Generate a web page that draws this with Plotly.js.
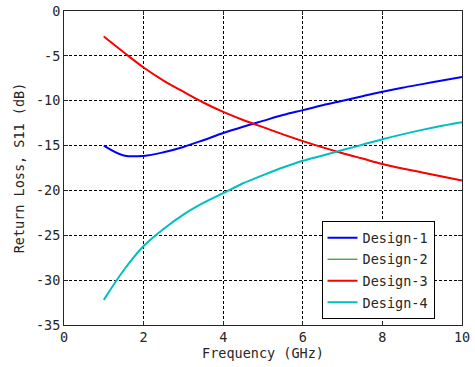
<!DOCTYPE html>
<html>
<head>
<meta charset="utf-8">
<script src="https://cdn.plot.ly/plotly-3.0.1.min.js"></script>
<style>html,body{margin:0;padding:0;background:#fff;}#chart{width:475px;height:367px;}</style>
</head>
<body>
<div id="chart"></div>
<script>
const freq = [1, 1.5, 2, 2.5, 3, 3.5, 4, 4.5, 5, 5.5, 6, 6.5, 7, 7.5, 8, 8.5, 9, 9.5, 10];
const design1 = [-15.0, -16.1, -16.15, -15.75, -15.15, -14.4, -13.6, -12.9, -12.25, -11.6, -11.05, -10.5, -10.0, -9.5, -9.0, -8.55, -8.15, -7.75, -7.35];
const design3 = [-2.85, -4.6, -6.3, -7.75, -9.0, -10.2, -11.25, -12.15, -12.95, -13.75, -14.5, -15.2, -15.85, -16.45, -17.05, -17.55, -18.0, -18.45, -18.9];
const design2 = design3.slice();
const design4 = [-32.2, -28.9, -26.2, -24.3, -22.7, -21.4, -20.3, -19.2, -18.3, -17.45, -16.7, -16.1, -15.5, -14.9, -14.3, -13.75, -13.25, -12.8, -12.4];
const names = ['Design-1', 'Design-2', 'Design-3', 'Design-4'];
const colors = ['#0000ff', '#008000', '#ff0000', '#00bfbf'];
const widths = [2, 1, 2, 2];
const xTicks = [0, 2, 4, 6, 8, 10];
const xTickText = ['0', '2', '4', '6', '8', '10'];
const yTicks = [-35, -30, -25, -20, -15, -10, -5, 0];
const yTickText = ['-35', '-30', '-25', '-20', '-15', '-10', '-5', '0'];

const series = [design1, design2, design3, design4];
const traces = series.map((ys, i) => ({
  x: freq, y: ys, type: 'scatter', mode: 'lines', name: names[i],
  legendgroup: 'g' + i,
  line: {color: colors[i], width: widths[i], shape: 'spline', smoothing: 1}
}));

const font = {family: '"DejaVu Sans Mono", "Liberation Mono", monospace', size: 13.5, color: '#262626'};
const axisCommon = {
  showline: true, linecolor: '#262626', linewidth: 1, mirror: 'ticks',
  ticks: 'inside', ticklen: 4, tickcolor: '#262626',
  showgrid: true, gridcolor: '#000', griddash: '3px,2px', gridwidth: 1,
  zeroline: false, tickfont: font
};
const layout = {
  width: 475, height: 367,
  margin: {l: 64, r: 13, t: 11, b: 42},
  paper_bgcolor: '#fff', plot_bgcolor: '#fff',
  font: font,
  showlegend: true,
  xaxis: Object.assign({}, axisCommon, {
    range: [0, 10], tickvals: xTicks, ticktext: xTickText,
    title: {text: 'Frequency (GHz)', font: font, standoff: 4}
  }),
  yaxis: Object.assign({}, axisCommon, {
    range: [-35, 0], tickvals: yTicks, ticktext: yTickText,
    title: {text: 'Return Loss, S11 (dB)', font: font, standoff: 8}
  }),
  legend: {
    x: 0.647, y: 0.33, xanchor: 'left', yanchor: 'top',
    bgcolor: '#fff', bordercolor: '#000', borderwidth: 1,
    font: {family: font.family, size: 13.5, color: '#262626'},
    tracegroupgap: 1
  }
};
Plotly.newPlot('chart', traces, layout, {staticPlot: true, displayModeBar: false});
</script>
</body>
</html>
